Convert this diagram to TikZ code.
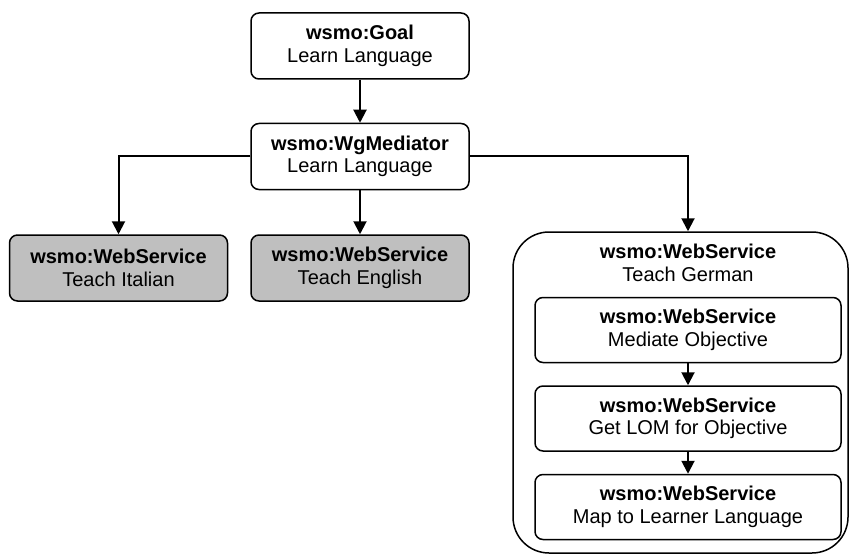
\documentclass[tikz,border=0pt]{standalone}
\usepackage{fontspec}
\setmainfont{Liberation Sans}
\usetikzlibrary{positioning,arrows.meta}

\begin{document}
\begin{tikzpicture}[x=1pt,y=1pt,
    box/.style={draw,line width=1.5pt,rounded corners=8pt,align=center,inner sep=0pt,
        minimum width=218pt,minimum height=66pt,font=\fontsize{20}{22.5}\selectfont},
    greybox/.style={box,fill=black!25},
    subbox/.style={box,minimum width=306pt,minimum height=65pt},
    cluster/.style={draw,line width=1.5pt,rounded corners=36pt,inner sep=0pt,
        minimum width=335pt,minimum height=321pt},
    title/.style={align=center,inner sep=0pt,font=\fontsize{20}{22.5}\selectfont},
    link/.style={line width=2pt,-{Triangle[length=13pt,width=13pt]}}]
    \useasboundingbox (0,0) rectangle (853,-556);

    \node[box] (g1) at (360,-46) {\textbf{wsmo:Goal}\\Learn Language};
    \node[box,below=43pt of g1] (m1) {\textbf{wsmo:WgMediator}\\Learn Language};
    \node[greybox,below=44pt of m1] (s2) {\textbf{wsmo:WebService}\\Teach English};
    \node[greybox,left=22pt of s2] (s1) {\textbf{wsmo:WebService}\\Teach Italian};

    \node[cluster] (s3) at (680.5,-392.5) {};
    \node[title] (t3) at (688,-263) {\textbf{wsmo:WebService}\\Teach German};
    \node[subbox] (d1) at (688,-330) {\textbf{wsmo:WebService}\\Mediate Objective};
    \node[subbox,below=22pt of d1] (d2) {\textbf{wsmo:WebService}\\Get LOM for Objective};
    \node[subbox,below=22pt of d2] (d3) {\textbf{wsmo:WebService}\\Map to Learner Language};

    \draw[link] (g1) -- (m1);
    \draw[link] (m1.west) -| (s1.north);
    \draw[link] (m1) -- (s2);
    \draw[link] (m1.east) -| (t3.north |- s3.north);
    \draw[link] (d1) -- (d2);
    \draw[link] (d2) -- (d3);
\end{tikzpicture}
\end{document}
